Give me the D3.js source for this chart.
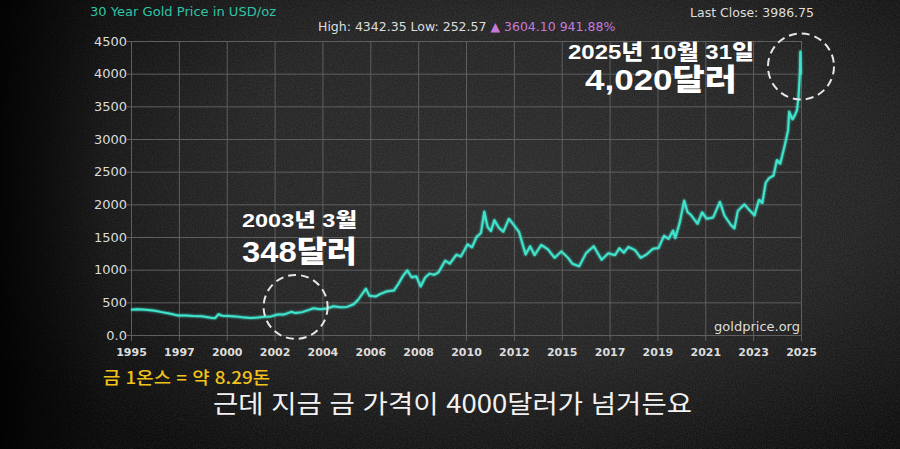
<!DOCTYPE html>
<html lang="ko">
<head>
<meta charset="utf-8">
<title>30 Year Gold Price</title>
<script src="https://cdn.jsdelivr.net/npm/d3@7"></script>
<style>
  html, body { margin: 0; padding: 0; background: #111; overflow: hidden; }
  svg { display: block; }
  .grid line { stroke: #5e5e5e; stroke-width: 1; }
  .grid path { display: none; }
  .axis text { fill: #dcdcdc; font-family: "DejaVu Sans", Verdana, sans-serif; }
  .axis path, .axis line { stroke: none; }
</style>
</head>
<body>
<div id="chart"></div>
<script>
var width = 900, height = 449;

// gold price, decimal year -> USD/oz
var years = [1995.83,1996.1,1996.5,1996.9,1997.2,1997.6,1997.9,1998.3,1998.6,1999.0,1999.4,1999.6,1999.75,1999.9,
  2000.2,2000.5,2000.8,2001.2,2001.5,2001.8,2002.1,2002.4,2002.7,2003.0,2003.2,2003.5,2003.8,2004.0,2004.3,2004.6,
  2004.9,2005.2,2005.5,2005.8,2006.0,2006.35,2006.5,2006.8,2007.0,2007.3,2007.6,2007.8,2008.0,2008.2,2008.4,2008.6,
  2008.8,2009.0,2009.2,2009.4,2009.6,2009.9,2010.1,2010.4,2010.6,2010.9,2011.1,2011.3,2011.5,2011.65,2011.8,2011.95,
  2012.1,2012.3,2012.5,2012.75,2013.0,2013.2,2013.5,2013.7,2013.9,2014.2,2014.5,2014.8,2015.1,2015.4,2015.6,2015.9,
  2016.2,2016.55,2016.9,2017.2,2017.5,2017.7,2017.9,2018.1,2018.4,2018.65,2018.9,2019.2,2019.45,2019.7,2019.9,
  2020.1,2020.2,2020.4,2020.6,2020.75,2020.9,2021.2,2021.4,2021.6,2021.9,2022.2,2022.4,2022.7,2022.85,2023.0,
  2023.3,2023.5,2023.75,2023.95,2024.1,2024.25,2024.4,2024.6,2024.75,2024.9,2025.1,2025.25,2025.3,2025.45,2025.55,
  2025.65,2025.72,2025.78,2025.8,2025.82,2025.83];
var prices = [385,395,385,370,350,325,300,298,290,288,265,258,320,295,
  290,285,270,262,268,280,285,315,315,355,335,350,385,410,395,405,
  440,425,430,470,540,710,600,590,630,670,680,780,900,990,880,900,
  740,880,940,920,960,1140,1090,1230,1200,1390,1340,1500,1560,1890,1650,1590,
  1760,1640,1580,1780,1670,1580,1230,1360,1220,1380,1310,1180,1280,1180,1090,1050,
  1250,1360,1150,1250,1220,1330,1260,1350,1300,1180,1230,1320,1330,1520,1470,
  1600,1480,1720,2060,1880,1840,1700,1880,1780,1800,2040,1830,1680,1630,1900,
  2000,1920,1830,2070,2020,2330,2400,2440,2680,2620,2900,3130,3420,3300,3360,
  3440,3650,4000,4340,4020,3987];

var yTicks = [0, 500, 1000, 1500, 2000, 2500, 3000, 3500, 4000, 4500];
var xTickLabels = ["1995","1997","2000","2002","2004","2006","2008","2010","2012","2015","2017","2019","2021","2023","2025"];
var startYear = 1995.83, endYear = 2025.83;

function toDate(y) {
  var yr = Math.floor(y);
  var s = new Date(yr, 0, 1), e = new Date(yr + 1, 0, 1);
  return new Date(+s + (y - yr) * (e - s));
}

var data = years.map(function(y, i) { return { date: toDate(y), price: prices[i] }; });

var margin = { left: 131, right: 99, top: 41, bottom: 114 };
var w = width - margin.left - margin.right;
var h = height - margin.top - margin.bottom;

var svg = d3.select("#chart").append("svg")
  .attr("width", width)
  .attr("height", height);

// background: dark chalkboard with vignette and grain
var defs = svg.append("defs");
var rg = defs.append("radialGradient").attr("id", "bg")
  .attr("cx", "58%").attr("cy", "42%").attr("r", "70%");
rg.append("stop").attr("offset", "0%").attr("stop-color", "#2c2c2c");
rg.append("stop").attr("offset", "55%").attr("stop-color", "#232323");
rg.append("stop").attr("offset", "100%").attr("stop-color", "#0b0b0b");
var lg = defs.append("linearGradient").attr("id", "leftfade")
  .attr("x1", "0").attr("x2", "1").attr("y1", "0").attr("y2", "0");
lg.append("stop").attr("offset", "0").attr("stop-color", "#000").attr("stop-opacity", 0.85);
lg.append("stop").attr("offset", "0.12").attr("stop-color", "#000").attr("stop-opacity", 0.2);
lg.append("stop").attr("offset", "0.3").attr("stop-color", "#000").attr("stop-opacity", 0);
var grain = defs.append("filter").attr("id", "grain").attr("x", 0).attr("y", 0).attr("width", "100%").attr("height", "100%");
grain.append("feTurbulence").attr("type", "fractalNoise").attr("baseFrequency", "0.9 0.6").attr("numOctaves", 3).attr("seed", 7);
grain.append("feColorMatrix").attr("values", "0 0 0 0 0.5  0 0 0 0 0.5  0 0 0 0 0.5  0 0 0 0.5 -0.1");
var glow = defs.append("filter").attr("id", "glow").attr("x", "-5%").attr("y", "-5%").attr("width", "110%").attr("height", "110%");
glow.append("feGaussianBlur").attr("stdDeviation", 1.2).attr("result", "b");
var fm = glow.append("feMerge");
fm.append("feMergeNode").attr("in", "b");
fm.append("feMergeNode").attr("in", "SourceGraphic");

svg.append("rect").attr("width", width).attr("height", height).attr("fill", "url(#bg)");
svg.append("rect").attr("width", width).attr("height", height).attr("filter", "url(#grain)").attr("opacity", 0.35);
svg.append("rect").attr("width", width).attr("height", height).attr("fill", "url(#leftfade)");

var x = d3.scaleTime().domain([toDate(startYear), toDate(endYear)]).range([0, w]);
var y = d3.scaleLinear().domain([0, 4500]).range([h, 0]);

// evenly spaced tick dates, labelled by year
var tickDates = xTickLabels.map(function(d, i) {
  return toDate(startYear + i * (endYear - startYear) / (xTickLabels.length - 1));
});

var g = svg.append("g").attr("transform", "translate(" + margin.left + "," + margin.top + ")");

g.append("g").attr("class", "grid")
  .attr("transform", "translate(0," + h + ")")
  .call(d3.axisBottom(x).tickValues(tickDates).tickSize(-h - 0).tickSizeOuter(0).tickFormat(""))
  .selectAll("line").attr("y2", -h).attr("y1", 6);

g.append("g").attr("class", "grid")
  .call(d3.axisLeft(y).tickValues(yTicks).tickFormat(""))
  .selectAll("line").attr("x1", -4).attr("x2", w);

g.append("g").attr("class", "axis")
  .attr("transform", "translate(0," + h + ")")
  .call(d3.axisBottom(x).tickValues(tickDates).tickSize(0).tickPadding(13)
    .tickFormat(function(d, i) { return xTickLabels[i]; }))
  .selectAll("text").style("font-size", "11px").style("font-weight", "bold").attr("fill", "#cfcfcf");

g.append("g").attr("class", "axis")
  .call(d3.axisLeft(y).tickValues(yTicks).tickSize(0).tickPadding(4)
    .tickFormat(function(d) { return d === 0 ? "0.0" : d; }))
  .selectAll("text").style("font-size", "13px");

var line = d3.line()
  .x(function(d) { return x(d.date); })
  .y(function(d) { return y(d.price); });

g.append("path").datum(data)
  .attr("d", line)
  .attr("fill", "none")
  .attr("stroke", "#3fe3cc")
  .attr("stroke-width", 2)
  .attr("stroke-linejoin", "round")
  .attr("filter", "url(#glow)");

// dashed highlight circles
var circles = [
  { year: 2003.2, price: 430, r: 32 },
  { year: 2025.83, price: 4110, r: 33 }
];
g.selectAll("circle.mark").data(circles).enter().append("circle")
  .attr("class", "mark")
  .attr("cx", function(d) { return x(toDate(d.year)); })
  .attr("cy", function(d) { return y(d.price); })
  .attr("r", function(d) { return d.r; })
  .attr("fill", "none")
  .attr("stroke", "#e6e6e6")
  .attr("stroke-width", 2)
  .attr("stroke-dasharray", "8,5");

// header texts
var sans = "'DejaVu Sans', Verdana, sans-serif";
svg.append("text").attr("x", 90).attr("y", 16)
  .attr("font-family", sans).attr("font-size", 13).attr("fill", "#2fc4a8")
  .attr("textLength", 186).attr("lengthAdjust", "spacingAndGlyphs")
  .text("30 Year Gold Price in USD/oz");

var hl = svg.append("text").attr("x", 318).attr("y", 31)
  .attr("font-family", sans).attr("font-size", 12.5).attr("fill", "#dddddd");
hl.append("tspan").text("High: 4342.35 Low: 252.57 ");
hl.append("tspan").attr("fill", "#c47ad8").text("\u25B2 3604.10 941.88%");

svg.append("text").attr("x", 814).attr("y", 17).attr("text-anchor", "end")
  .attr("font-family", sans).attr("font-size", 12.5).attr("fill", "#dddddd")
  .text("Last Close: 3986.75");

svg.append("text").attr("x", 800).attr("y", 331).attr("text-anchor", "end")
  .attr("font-family", sans).attr("font-size", 13).attr("fill", "#dedede")
  .text("goldprice.org");

// callouts: digits in a compact bold face, hangul falls back to Noto CJK
var kr = "'Noto Sans CJK KR', sans-serif";
var callFont = "'Liberation Sans', 'Noto Sans CJK KR', sans-serif";
function callout(lines) {
  var t = svg.append("text")
    .attr("font-family", callFont).attr("font-weight", 900)
    .attr("fill", "#ffffff");
  lines.forEach(function(l) {
    t.append("tspan").attr("x", l.x).attr("y", l.y)
      .attr("font-size", l.size)
      .attr("textLength", l.len).attr("lengthAdjust", "spacingAndGlyphs")
      .text(l.text);
  });
}
callout([
  { text: "2025년 10월 31일", x: 568, y: 59, size: 21, len: 186 },
  { text: "4,020달러", x: 585, y: 90, size: 30, len: 152 }
]);
callout([
  { text: "2003년 3월", x: 242, y: 227, size: 19, len: 115 },
  { text: "348달러", x: 242, y: 262, size: 30, len: 115 }
]);

svg.append("text").attr("x", 103).attr("y", 384)
  .attr("font-family", kr).attr("font-weight", 500).attr("font-size", 17)
  .attr("fill", "#f2c21b")
  .attr("textLength", 167).attr("lengthAdjust", "spacingAndGlyphs")
  .text("금 1온스 = 약 8.29돈");

svg.append("text").attr("x", 213).attr("y", 413)
  .attr("font-family", kr).attr("font-weight", 400).attr("font-size", 25)
  .attr("fill", "#f2f2f2")
  .attr("textLength", 479).attr("lengthAdjust", "spacingAndGlyphs")
  .text("근데 지금 금 가격이 4000달러가 넘거든요");
</script>
</body>
</html>
